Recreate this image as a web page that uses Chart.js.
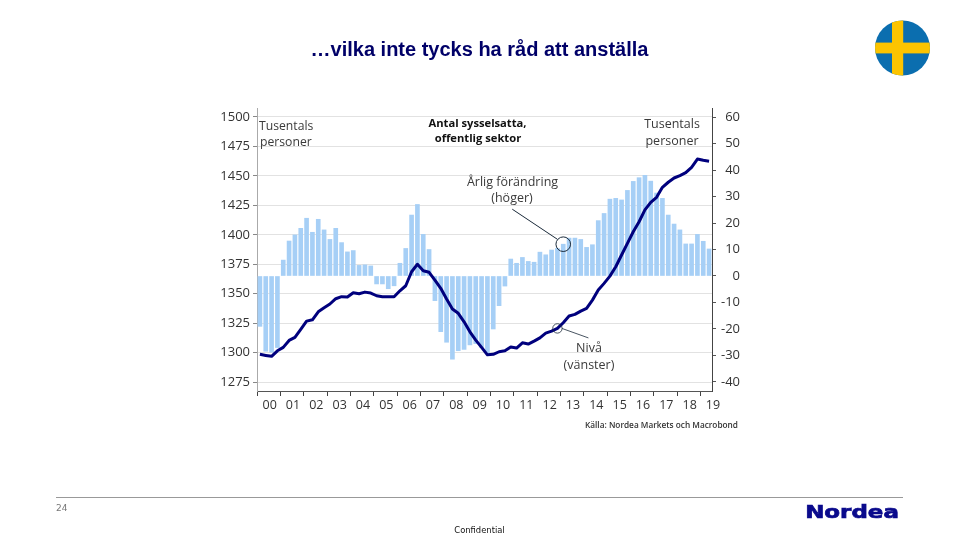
<!DOCTYPE html>
<html lang="sv">
<head>
<meta charset="utf-8">
<title>Antal sysselsatta, offentlig sektor</title>
<script src="https://cdn.jsdelivr.net/npm/chart.js@4"></script>
<style>
html,body{margin:0;padding:0;background:#fff;width:960px;height:540px;overflow:hidden}
#wrap{position:relative;width:960px;height:540px}
canvas{position:absolute;left:0;top:0}
.t{position:absolute;white-space:nowrap;line-height:1;transform:translate(-50%,-50%)}
.a{font-family:"Open Sans",sans-serif;font-size:12.5px;color:#3a3a3a;text-align:center}
.l{transform:translate(0,-50%)}
</style>
</head>
<body>
<div id="wrap">
<canvas id="c" width="960" height="540"></canvas>
<div class="t" style="left:479.5px;top:49px;font:bold 20px 'Liberation Sans',Arial,sans-serif;color:#000068">…vilka inte tycks ha råd att anställa</div>
<svg style="position:absolute;left:875px;top:20px" width="56" height="56" viewBox="0 0 56 56">
<defs><clipPath id="fc"><circle cx="27.5" cy="28" r="27.5"/></clipPath></defs>
<g clip-path="url(#fc)"><rect width="56" height="56" fill="#0b6eaf"/><rect x="17" width="11.2" height="56" fill="#fcc400"/><rect y="22.6" width="56" height="10.8" fill="#fcc400"/></g>
</svg>
<div class="t a l" style="left:259px;top:126px;font-size:12.2px">Tusentals</div>
<div class="t a l" style="left:260px;top:142px;font-size:12.2px">personer</div>
<div class="t" style="left:477.5px;top:122px;font:bold 11.2px 'Open Sans',sans-serif;color:#111">Antal sysselsatta,</div>
<div class="t" style="left:478px;top:137px;font:bold 11.2px 'Open Sans',sans-serif;color:#111">offentlig sektor</div>
<div class="t a" style="left:672px;top:124px">Tusentals</div>
<div class="t a" style="left:672px;top:141px">personer</div>
<div class="t a" style="left:512.5px;top:182px">Årlig förändring</div>
<div class="t a" style="left:512px;top:198px">(höger)</div>
<div class="t a" style="left:589px;top:348px">Nivå</div>
<div class="t a" style="left:589px;top:365px">(vänster)</div>
<div class="t l" style="left:585px;top:424px;font:600 8.28px 'Open Sans',sans-serif;color:#333">Källa: Nordea Markets och Macrobond</div>
<div style="position:absolute;left:56px;top:497px;width:847px;height:1px;background:#999"></div>
<div class="t l" style="left:56px;top:508px;font:9px 'DejaVu Sans',sans-serif;color:#777">24</div>
<div class="t" style="left:479.5px;top:530px;font:8.4px 'DejaVu Sans',sans-serif;color:#111">Confidential</div>
<div class="t" style="left:851.5px;top:510.5px;font:bold 18.5px 'DejaVu Sans',sans-serif;color:#0a0a8c;-webkit-text-stroke:.7px #0a0a8c;transform:translate(-50%,-50%) scaleX(1.24)">Nordea</div>
</div>
<script>
const quarters = [
"00Q1","00Q2","00Q3","00Q4","01Q1","01Q2","01Q3","01Q4","02Q1","02Q2","02Q3","02Q4",
"03Q1","03Q2","03Q3","03Q4","04Q1","04Q2","04Q3","04Q4","05Q1","05Q2","05Q3","05Q4",
"06Q1","06Q2","06Q3","06Q4","07Q1","07Q2","07Q3","07Q4","08Q1","08Q2","08Q3","08Q4",
"09Q1","09Q2","09Q3","09Q4","10Q1","10Q2","10Q3","10Q4","11Q1","11Q2","11Q3","11Q4",
"12Q1","12Q2","12Q3","12Q4","13Q1","13Q2","13Q3","13Q4","14Q1","14Q2","14Q3","14Q4",
"15Q1","15Q2","15Q3","15Q4","16Q1","16Q2","16Q3","16Q4","17Q1","17Q2","17Q3","17Q4",
"18Q1","18Q2","18Q3","18Q4","19Q1","19Q2"];
const annualChange = [
-19,-28.4,-28.8,-27,6,13.2,15.5,18,21.8,16.5,21.4,17.4,
13.8,18,12.6,9.1,9.6,4,4.2,3.8,-3,-3,-4.8,-3.7,
4.8,10.4,23,27,15.7,10,-9.3,-21,-25,-31.4,-28.2,-27.7,
-26,-25.5,-27,-29,-20,-11.2,-3.8,6.4,4.8,7,5.5,5.2,
9,8,9.8,10.4,12,14.3,14.3,13.8,10.8,11.8,20.9,23.6,
29,29.3,28.7,32.3,35.7,37.1,38,35.8,31.3,29.3,23,19.6,
17.4,12.1,12.1,15.7,13.1,10.2];
const level = [
1298.6,1297.7,1296.9,1301.6,1304.5,1310.4,1313,1319.8,1326.8,1327.9,1334.7,1338.1,
1341.3,1345.8,1347.5,1347.2,1350.9,1350,1351.4,1350.6,1348.3,1347.5,1347.5,1347.5,
1352.5,1356.8,1368.7,1375,1369.5,1368.2,1361.6,1354.6,1345.5,1337,1333.4,1326.2,
1317.7,1310.7,1304.5,1298.2,1298.6,1300.8,1301.6,1304.8,1303.9,1308.4,1307.3,1309.8,
1312.6,1316.6,1318.3,1320.6,1325.4,1331.1,1332.5,1335.3,1337.6,1344.6,1353.1,1358.8,
1365,1372.9,1382.9,1392.8,1402.6,1411.1,1421.1,1427.6,1431.8,1440.3,1444.6,1448.2,
1450.2,1452.7,1457.3,1464.3,1463.2,1462.4];
const leftTicks = [1275,1300,1325,1350,1375,1400,1425,1450,1475,1500];
const rightTicks = [-40,-30,-20,-10,0,10,20,30,40,50,60];

const annotations = {
  change: {index: 52, value: 12, radius: 7.3},
  level: {index: 51, value: 1320.6, radius: 4.7}
};

const marks = {
  id: "marks",
  afterDatasetsDraw(chart) {
    const {ctx, scales} = chart;
    const a = annotations.change, b = annotations.level;
    const ax = scales.x.getPixelForValue(a.index), ay = scales.yRight.getPixelForValue(a.value);
    const bx = scales.x.getPixelForValue(b.index), by = scales.yLeft.getPixelForValue(b.value);
    ctx.save();
    ctx.strokeStyle = "#1a2a3a";
    ctx.lineWidth = 1;
    ctx.beginPath(); ctx.arc(ax, ay, a.radius, 0, Math.PI * 2); ctx.stroke();
    ctx.beginPath(); ctx.moveTo(ax - 51, ay - 35); ctx.lineTo(ax - 6, ay - 5); ctx.stroke();
    ctx.lineWidth = .8;
    ctx.beginPath(); ctx.arc(bx, by, b.radius, 0, Math.PI * 2); ctx.stroke();
    ctx.beginPath(); ctx.moveTo(bx + 4.5, by); ctx.lineTo(bx + 31, by + 9.5); ctx.stroke();
    ctx.restore();
  }
};

new Chart(document.getElementById("c"), {
  data: {
    labels: quarters,
    datasets: [
      {type: "line", label: "Nivå (vänster)", data: level, yAxisID: "yLeft", borderColor: "#00007d",
       borderWidth: 3, pointRadius: 0, tension: 0, order: 1, borderJoinStyle: "round"},
      {type: "bar", label: "Årlig förändring (höger)", data: annualChange, yAxisID: "yRight",
       backgroundColor: "#a6cff6", barThickness: 4, order: 2}
    ]
  },
  plugins: [marks],
  options: {
    responsive: false,
    animation: false,
    layout: {padding: {left: 217, right: 220, top: 108, bottom: 119}},
    plugins: {legend: {display: false}, tooltip: {enabled: false}},
    scales: {
      x: {
        type: "category",
        offset: true,
        afterFit(s) { s.height = 30; },
        border: {color: "#555", width: 1},
        grid: {
          offset: true, drawOnChartArea: false, drawTicks: true, tickLength: 5, tickWidth: 1,
          tickColor: c => (c.index % 4 === 0 ? "#444" : "rgba(0,0,0,0)")
        },
        ticks: {
          autoSkip: false, maxRotation: 0, minRotation: 0, padding: 2, labelOffset: 3.9,
          color: "#333", font: {family: "'Open Sans',sans-serif", size: 12.5},
          callback(v, i) { return i % 4 === 1 ? quarters[i].slice(0, 2) : ""; }
        }
      },
      yLeft: {
        type: "linear", position: "left", min: 1267.5, max: 1507.6,
        afterBuildTicks(s) { s.ticks = leftTicks.map(value => ({value})); },
        afterFit(s) { s.width = 40; },
        border: {color: "#aaa", width: 1},
        grid: {color: "#e2e2e2", lineWidth: 1, tickLength: 4, tickColor: "#888"},
        ticks: {padding: 3, color: "#333", font: {family: "'Open Sans',sans-serif", size: 13},
                callback: v => String(v)}
      },
      yRight: {
        type: "linear", position: "right", min: -43.4, max: 63.4,
        afterBuildTicks(s) { s.ticks = rightTicks.map(value => ({value})); },
        afterFit(s) { s.width = 28; },
        border: {color: "#444", width: 1},
        grid: {drawOnChartArea: false, tickLength: 4, tickColor: "#555"},
        ticks: {padding: 4, crossAlign: "far", color: "#333", font: {family: "'Open Sans',sans-serif", size: 13},
                callback: v => String(v)}
      }
    }
  }
});
</script>
</body>
</html>
